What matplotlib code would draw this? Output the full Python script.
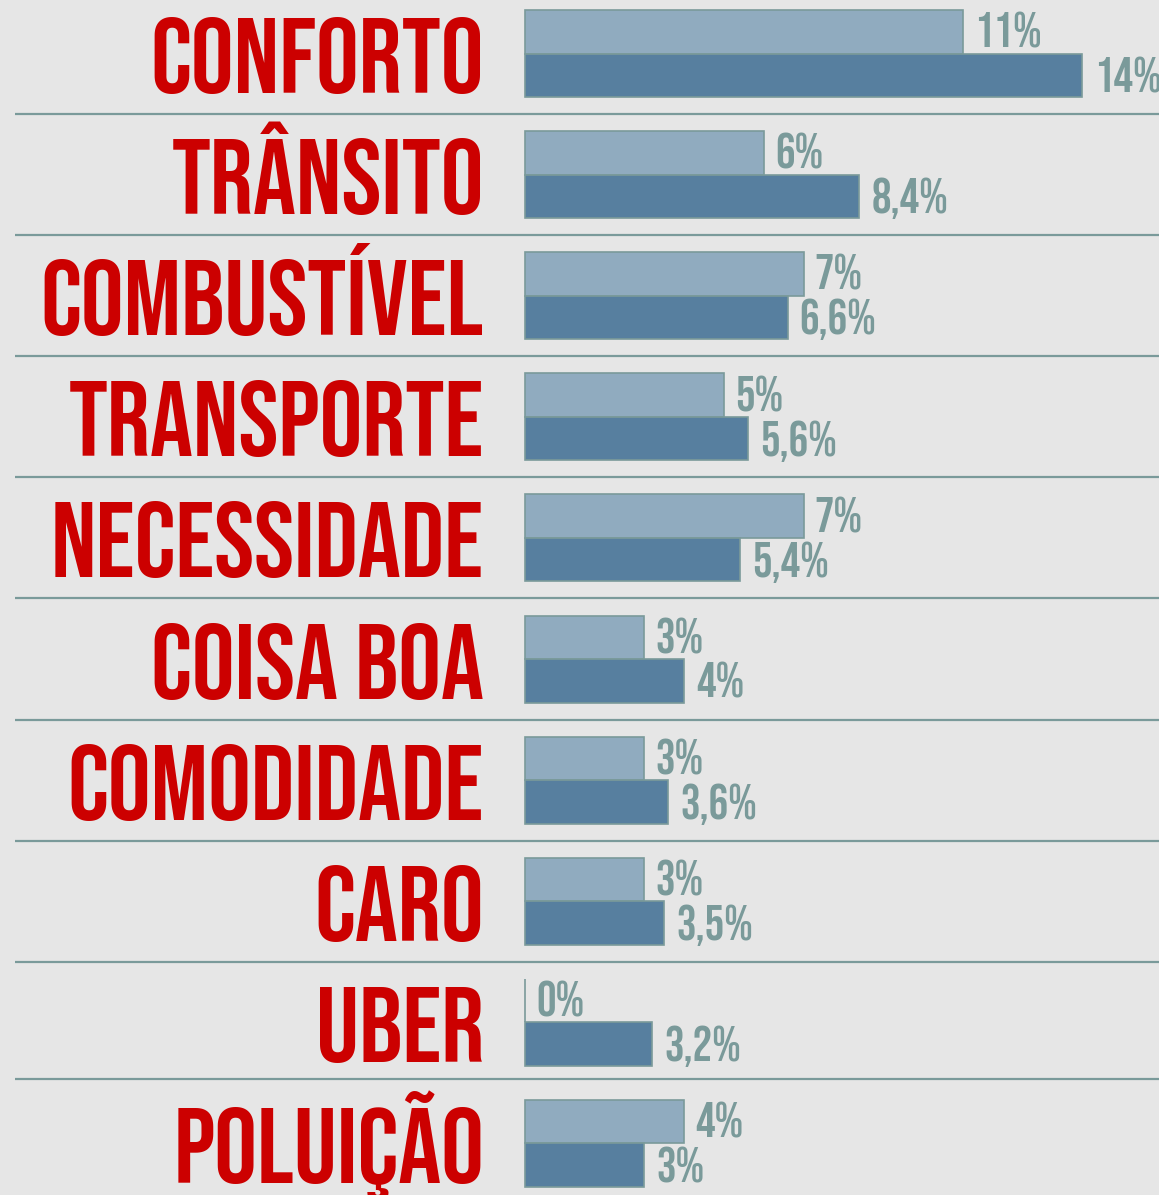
import matplotlib
matplotlib.use("Agg")
import matplotlib.pyplot as plt

categorias = ["CONFORTO", "TRÂNSITO", "COMBUSTÍVEL", "TRANSPORTE", "NECESSIDADE",
              "COISA BOA", "COMODIDADE", "CARO", "UBER", "POLUIÇÃO"]
serie_a = [11, 6, 7, 5, 7, 3, 3, 3, 0, 4]
serie_b = [14, 8.4, 6.6, 5.6, 5.4, 4, 3.6, 3.5, 3.2, 3]
rotulos_a = ["11%", "6%", "7%", "5%", "7%", "3%", "3%", "3%", "0%", "4%"]
rotulos_b = ["14%", "8,4%", "6,6%", "5,6%", "5,4%", "4%", "3,6%", "3,5%", "3,2%", "3%"]

fundo = "#e6e6e6"
cor_a = "#90abbf"
cor_b = "#577f9f"
cinza = "#7a9a9a"
vermelho = "#cc0000"

W, H = 1159, 1195
px = 39.8          # pixels por ponto percentual
x0 = 525           # onde começa a barra
passo = 121.1      # altura de cada linha
topo = 10
alt = 43.5         # altura de cada barra

fig = plt.figure(figsize=(W / 100, H / 100), dpi=100, facecolor=fundo)
ax = fig.add_axes([0, 0, 1, 1])
ax.set_facecolor(fundo)
ax.set_xlim(-x0 / px, (W - x0) / px)
ax.set_ylim(H, 0)
ax.axis("off")

for i, cat in enumerate(categorias):
    t = topo + passo * i
    ya = t + alt / 2
    yb = t + alt * 1.5
    ax.barh(ya, serie_a[i], height=alt, color=cor_a, edgecolor=cinza, linewidth=1.2)
    ax.barh(yb, serie_b[i], height=alt, color=cor_b, edgecolor=cinza, linewidth=1.2)
    ax.text(serie_a[i] + 0.28, ya + 16, rotulos_a[i], family="Bebas Neue", fontsize=35,
            color=cinza, ha="left", va="baseline")
    ax.text(serie_b[i] + 0.3, yb + 17, rotulos_b[i], family="Bebas Neue", fontsize=35,
            color=cinza, ha="left", va="baseline")
    ax.text(-41 / px, t + 83, cat, family="Bebas Neue", fontsize=77,
            color=vermelho, ha="right", va="baseline")
    if i < len(categorias) - 1:
        ax.hlines(min(t + 104, 1079), -510 / px, (W - x0) / px, color=cinza, linewidth=1.6)

fig.savefig("out.png", dpi=100, facecolor=fundo)
